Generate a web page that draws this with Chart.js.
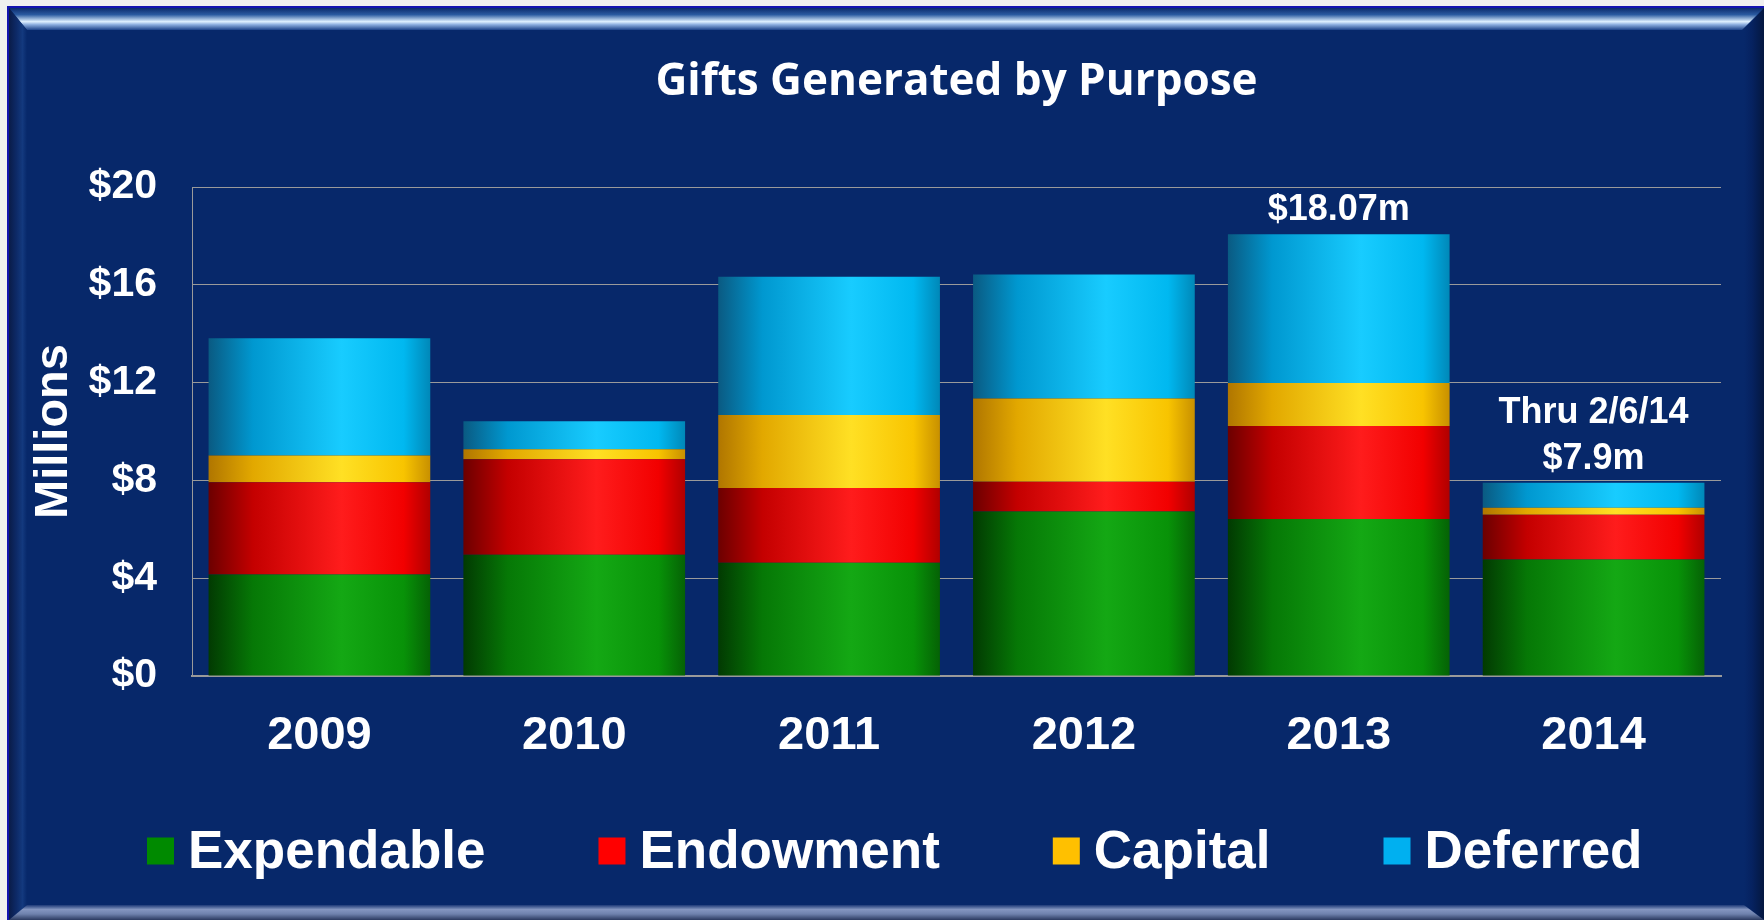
<!DOCTYPE html>
<html>
<head>
<meta charset="utf-8">
<script src="https://cdn.jsdelivr.net/npm/chart.js@4.4.1/dist/chart.umd.min.js"></script>
<style>
    html, body { margin: 0; padding: 0; }
    body { width: 1764px; height: 920px; background: #efefef; overflow: hidden; position: relative; }
    .frame { position: absolute; left: 7px; top: 6px; width: 1770px; height: 930px; background: #07286a; border-top: 2px solid #1212b0; border-left: 2px solid #1212b0; }
    .bevel { position: absolute; }
    .bevel.top { left: 9px; top: 8px; width: 1755px; height: 22px;
        background: linear-gradient(to bottom, #0b2a6c 0%, #2a5aa0 30%, #dff0ff 62%, #8fb0e0 75%, #1d438a 100%);
        clip-path: polygon(0 0, 100% 0, calc(100% - 22px) 100%, 18px 100%); }
    .bevel.left { left: 9px; top: 8px; width: 18px; height: 912px;
        background: linear-gradient(to right, #0a1c48 0%, #0d2966 40%, #13397e 75%, #07286a 100%);
        clip-path: polygon(0 0, 100% 22px, 100% calc(100% - 15px), 0 100%); }
    .bevel.right { left: 1744px; top: 8px; width: 20px; height: 912px;
        background: linear-gradient(to right, #07286a 0%, #062260 40%, #04173f 100%);
        clip-path: polygon(0 22px, 100% 0, 100% 100%, 0 calc(100% - 15px)); }
    .bevel.bottom { left: 9px; top: 905px; width: 1755px; height: 15px;
        background: linear-gradient(to bottom, #1d3a78 0%, #8496c0 30%, #6f82ad 60%, #2b3a60 100%);
        clip-path: polygon(18px 0, calc(100% - 20px) 0, 100% 100%, 0 100%); }
    #chart { position: absolute; left: 0; top: 0; }
</style>
</head>
<body>
<div class="frame"></div>
<div class="bevel top"></div>
<div class="bevel left"></div>
<div class="bevel right"></div>
<div class="bevel bottom"></div>
<canvas id="chart" width="1764" height="920"></canvas>
<script>
// data (millions of dollars)
var years = ['2009', '2010', '2011', '2012', '2013', '2014'];
var expendable = [4.15, 4.96, 4.63, 6.73, 6.42, 4.76];
var endowment = [3.77, 3.91, 3.06, 1.21, 3.80, 1.84];
var capital = [1.10, 0.40, 2.98, 3.41, 1.76, 0.28];
var deferred = [4.79, 1.15, 5.66, 5.07, 6.09, 1.02];
var totalLabels = ['', '', '', '', '$18.07m', 'Thru 2/6/14\n$7.9m'];
var yMin = 0, yMax = 20, yStep = 4;

var FONT = '"Liberation Sans", Arial, sans-serif';
var BAR_PCT = 0.87;

// horizontal shading so each bar looks like a cylinder
var shades = {
    green: ['#023a02', '#067806', '#14a814', '#089208', '#056205'],
    red: ['#6c0000', '#c40000', '#ff1c1c', '#f20000', '#b00000'],
    yellow: ['#b07600', '#e2a800', '#ffe024', '#f8c400', '#c89000'],
    blue: ['#0a5a82', '#0098d0', '#18ccff', '#00b8f0', '#0088b8']
};

function cylinder(stops) {
    return function (ctx) {
        var chart = ctx.chart;
        var xs = chart.scales.x;
        if (!xs || !chart.chartArea) return stops[2];
        var cx = xs.getPixelForValue(ctx.dataIndex);
        var w = (chart.chartArea.right - chart.chartArea.left) / years.length * BAR_PCT;
        var g = chart.ctx.createLinearGradient(cx - w / 2, 0, cx + w / 2, 0);
        g.addColorStop(0, stops[0]);
        g.addColorStop(0.2, stops[1]);
        g.addColorStop(0.6, stops[2]);
        g.addColorStop(0.88, stops[3]);
        g.addColorStop(1, stops[4]);
        return g;
    };
}

// labels over the 2013 / 2014 bars
var totalsPlugin = {
    id: 'totals',
    afterDatasetsDraw: function (chart) {
        var ctx = chart.ctx;
        var meta = chart.getDatasetMeta(chart.data.datasets.length - 1);
        ctx.save();
        ctx.fillStyle = '#ffffff';
        ctx.font = 'bold 36px ' + FONT;
        ctx.textAlign = 'center';
        ctx.textBaseline = 'middle';
        totalLabels.forEach(function (txt, i) {
            if (!txt) return;
            var bar = meta.data[i];
            var lines = txt.split('\n');
            lines.forEach(function (line, j) {
                var y = bar.y - 24 - (lines.length - 1 - j) * 46;
                ctx.fillText(line, bar.x, y);
            });
        });
        ctx.restore();
    }
};

// legend row under the axis (square swatch + big label)
var legendPlugin = {
    id: 'bigLegend',
    afterDraw: function (chart) {
        var ctx = chart.ctx;
        var x = 147, y = 851, box = 27, gap = 14, itemGap = 113;
        ctx.save();
        ctx.font = 'bold 53px ' + FONT;
        ctx.textBaseline = 'middle';
        chart.data.datasets.forEach(function (ds) {
            ctx.fillStyle = ds.legendColor;
            ctx.fillRect(x, y - box / 2, box, box);
            ctx.fillStyle = '#ffffff';
            ctx.fillText(ds.label, x + box + gap, y + 2);
            x += box + gap + ctx.measureText(ds.label).width + itemGap;
        });
        ctx.restore();
    }
};

var ctx = document.getElementById('chart').getContext('2d');
new Chart(ctx, {
    type: 'bar',
    data: {
        labels: years,
        datasets: [
            { label: 'Expendable', data: expendable, legendColor: '#008a00', backgroundColor: cylinder(shades.green) },
            { label: 'Endowment', data: endowment, legendColor: '#ff0000', backgroundColor: cylinder(shades.red) },
            { label: 'Capital', data: capital, legendColor: '#ffc000', backgroundColor: cylinder(shades.yellow) },
            { label: 'Deferred', data: deferred, legendColor: '#00b0f0', backgroundColor: cylinder(shades.blue) }
        ]
    },
    options: {
        responsive: false,
        animation: false,
        events: [],
        layout: { padding: { left: 0, right: 43, top: 0, bottom: 144 } },
        datasets: {
            bar: { categoryPercentage: 1, barPercentage: BAR_PCT, borderWidth: 0 }
        },
        plugins: {
            legend: { display: false },
            tooltip: { enabled: false },
            title: {
                display: true,
                fullSize: false,
                text: 'Gifts Generated by Purpose',
                color: '#ffffff',
                font: { family: '"Open Sans", sans-serif', size: 44, weight: 'bold', lineHeight: 1.2 },
                padding: { top: 55.6, bottom: 78.6 }
            }
        },
        scales: {
            x: {
                stacked: true,
                grid: { display: false, drawTicks: false },
                border: { display: true, color: '#9a9a9a', width: 2 },
                ticks: {
                    color: '#ffffff',
                    padding: 32,
                    font: { family: FONT, size: 47, weight: 'bold' }
                },
                afterFit: function (scale) { scale.height = 100; }
            },
            y: {
                stacked: true,
                min: yMin,
                max: yMax,
                grid: { color: '#9a9a9a', lineWidth: 1, drawTicks: false },
                border: { display: true, color: '#9a9a9a', width: 1 },
                ticks: {
                    stepSize: yStep,
                    color: '#ffffff',
                    padding: 35,
                    font: { family: FONT, size: 41, weight: 'bold' },
                    callback: function (v) { return '$' + v; }
                },
                title: {
                    display: true,
                    text: 'Millions',
                    color: '#ffffff',
                    font: { family: FONT, size: 47, weight: 'bold', lineHeight: 1.2 },
                    padding: { top: 26, bottom: 0 }
                },
                afterFit: function (scale) { scale.width = 192; }
            }
        }
    },
    plugins: [totalsPlugin, legendPlugin]
});
</script>
</body>
</html>
